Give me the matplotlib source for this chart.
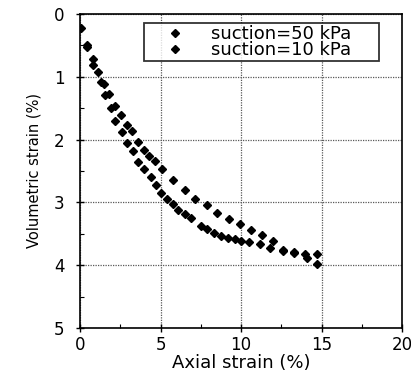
import matplotlib
matplotlib.use("Agg")
import matplotlib.pyplot as plt
from matplotlib.ticker import MultipleLocator

plt.rcParams['font.family'] = ['DejaVu Sans']

# suction = 50 kPa
axial_50 = [0.05, 0.45, 0.78, 1.12, 1.5, 1.8, 2.15, 2.54, 2.9, 3.2, 3.62, 3.95,
            4.27, 4.65, 5.1, 5.8, 6.5, 7.15, 7.9, 8.5, 9.25, 9.95, 10.6, 11.3,
            12.0, 12.6, 13.3, 14.0, 14.7]
vol_50 = [0.22, 0.49, 0.72, 0.92, 1.11, 1.27, 1.47, 1.61, 1.77, 1.86, 2.04, 2.16,
          2.26, 2.34, 2.47, 2.65, 2.81, 2.94, 3.04, 3.17, 3.27, 3.34, 3.44, 3.52,
          3.62, 3.75, 3.79, 3.82, 3.82]

# suction = 10 kPa
axial_10 = [0.42, 0.8, 1.3, 1.54, 1.94, 2.17, 2.6, 2.9, 3.3, 3.6, 4.0, 4.4, 4.7,
            5.05, 5.4, 5.8, 6.1, 6.5, 6.9, 7.5, 7.9, 8.3, 8.75, 9.2, 9.6, 10.0,
            10.5, 11.2, 11.8, 12.6, 13.3, 14.1, 14.75]
vol_10 = [0.53, 0.81, 1.09, 1.29, 1.50, 1.71, 1.88, 2.05, 2.18, 2.35, 2.47, 2.60,
          2.72, 2.85, 2.94, 3.03, 3.12, 3.19, 3.25, 3.37, 3.43, 3.49, 3.53, 3.57,
          3.59, 3.62, 3.63, 3.67, 3.72, 3.77, 3.81, 3.88, 3.98]

labels = ["suction=50 kPa", "suction=10 kPa"]
x_ticks = [0, 5, 10, 15, 20]
y_ticks = [0, 1, 2, 3, 4, 5]

fig = plt.figure(figsize=(4.11, 3.79), dpi=100)
ax = fig.add_axes([80/411, 1-328/379, 322/411, 314/379])

ax.plot(axial_50, vol_50, linestyle='none', marker='D', markersize=4.2,
        color='black', label=labels[0])
ax.plot(axial_10, vol_10, linestyle='none', marker='D', markersize=3.6,
        color='black', label=labels[1])

ax.set_xlim(0, 20)
ax.set_ylim(5, 0)
ax.set_xticks(x_ticks)
ax.set_yticks(y_ticks)
ax.xaxis.set_minor_locator(MultipleLocator(2.5))
ax.yaxis.set_minor_locator(MultipleLocator(0.5))
ax.tick_params(which='major', direction='inout', length=6, width=1, labelsize=12)
ax.tick_params(axis='y', which='major', pad=8)
ax.tick_params(axis='x', which='major', pad=3)
ax.tick_params(which='minor', direction='in', length=3, width=0.8)
ax.grid(True, which='major', linestyle=(0, (1, 1)), color='0.35', linewidth=0.9)
for s in ax.spines.values():
    s.set_linewidth(1.2)

ax.set_xlabel("Axial strain (%)", fontsize=13, labelpad=0)
ax.set_ylabel("Volumetric strain (%)", fontsize=10.5, labelpad=9)

leg = ax.legend(loc='upper left', bbox_to_anchor=(0.20, 0.971, 0.73, 0.0),
                mode='expand', fontsize=13, frameon=True, fancybox=False,
                edgecolor='black', borderaxespad=0, borderpad=0.1,
                handlelength=3.2, handletextpad=0.4, labelspacing=-0.1,
                markerscale=1.0)
leg.get_frame().set_linewidth(1.3)

fig.savefig("out.png", dpi=100)
